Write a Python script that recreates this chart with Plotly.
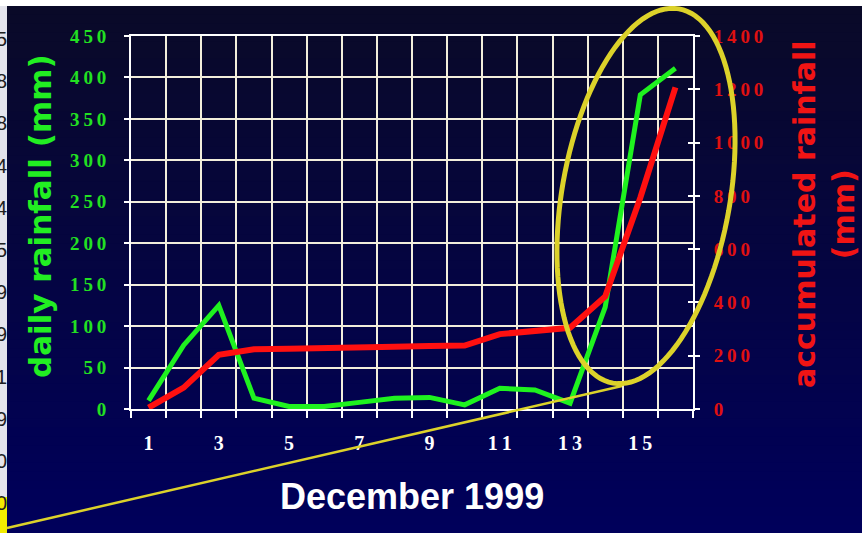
import numpy as np
import plotly.graph_objects as go

# ---- data -------------------------------------------------------------
days = list(range(1, 17))
daily_mm = [10, 77, 125, 13, 3, 3, 8, 13, 14, 5, 25, 23, 7, 123, 379, 411]
accum_mm = [5, 80, 203, 224, 226, 227, 229, 234, 236, 238, 281, 291, 305, 422, 793, 1207]
x_tick_days = [1, 3, 5, 7, 9, 11, 13, 15]
left_ticks = [0, 50, 100, 150, 200, 250, 300, 350, 400, 450]
right_ticks = [0, 200, 400, 600, 800, 1000, 1200, 1400]
side_digits = ["5", "8", "8", "4", "4", "5", "9", "9", "1", "9", "0", "0"]

# ---- page geometry (pixels) ------------------------------------------
W, H = 862, 533
L, R, T, B = 131, 693, 36, 409


def px(x):
    return (x - L) / (R - L)


def py(y):
    return (B - y) / (B - T)


def spaced(n):
    return "\u2009".join(str(n))


GREEN_LINE = "#1ff21f"
GREEN_TXT = "#22e022"
RED_LINE = "#ff1010"
RED_TXT = "#e01010"
GRID = "#f2eedb"
YELLOW = "#dcd22a"
SERIF = "Liberation Serif, Times New Roman, serif"

fig = go.Figure()

fig.add_trace(go.Scatter(
    x=days, y=daily_mm, mode="lines", yaxis="y",
    line=dict(color=GREEN_LINE, width=5), name="daily rainfall"))
fig.add_trace(go.Scatter(
    x=days, y=accum_mm, mode="lines", yaxis="y2",
    line=dict(color=RED_LINE, width=6), name="accumulated rainfall"))
# carrier for the inner half of the right-hand tick marks
fig.add_trace(go.Scatter(x=[], y=[], yaxis="y3", showlegend=False))

shapes = []

# dark navy backdrop, slightly lighter toward the bottom (overlapping bands)
top_rgb = np.array([10, 10, 40])
bot_rgb = np.array([0, 0, 92])
n_bands = 60
y_top, y_bot = 6, H
for i in range(n_bands):
    a = y_top + (y_bot - y_top) * i / n_bands
    b = min(y_top + (y_bot - y_top) * (i + 1) / n_bands + 3, H)
    c = top_rgb + (bot_rgb - top_rgb) * (i + 0.5) / n_bands
    shapes.append(dict(
        type="rect", xref="paper", yref="paper", layer="below",
        x0=px(7), x1=px(W), y0=py(a), y1=py(b),
        fillcolor="rgb(%d,%d,%d)" % tuple(c.astype(int)), line=dict(width=0)))

# spreadsheet column peeking in on the left
shapes.append(dict(type="rect", xref="paper", yref="paper", layer="below",
                   x0=px(0), x1=px(7), y0=py(6), y1=py(497),
                   fillcolor="#e4e4ec", line=dict(width=0)))
shapes.append(dict(type="rect", xref="paper", yref="paper", layer="below",
                   x0=px(0), x1=px(7), y0=py(497), y1=py(H),
                   fillcolor="#f2ec00", line=dict(width=0)))

# highlight ellipse around the final days
cx, cy, A, Bm, phi = 646, 196, 190, 84, np.radians(10)
t = np.linspace(0, 2 * np.pi, 121)
ex = cx + A * np.cos(t) * np.sin(phi) + Bm * np.sin(t) * np.cos(phi)
ey = cy - A * np.cos(t) * np.cos(phi) + Bm * np.sin(t) * np.sin(phi)
path = "M " + " L ".join("%.5f,%.5f" % (px(a), py(b)) for a, b in zip(ex, ey)) + " Z"
shapes.append(dict(type="path", xref="paper", yref="paper", layer="above",
                   path=path, line=dict(color=YELLOW, width=5)))
shapes.append(dict(type="line", xref="paper", yref="paper", layer="above",
                   x0=px(7), y0=py(528), x1=px(622), y1=py(386),
                   line=dict(color=YELLOW, width=2.5)))

annotations = [
    dict(text="daily rainfall (mm)", x=px(40), y=py(216), xref="paper", yref="paper",
         showarrow=False, textangle=-90, xanchor="center", yanchor="middle",
         font=dict(family="DejaVu Sans", size=31, color="#22ee22", weight="bold")),
    dict(text="accumulated rainfall<br>(mm)", x=px(824), y=py(215), xref="paper", yref="paper",
         showarrow=False, textangle=-90, xanchor="center", yanchor="middle",
         font=dict(family="DejaVu Sans", size=30, color="#f01414", weight="bold")),
    dict(text="December 1999", x=px(412), y=py(496), xref="paper", yref="paper",
         showarrow=False, xanchor="center", yanchor="middle",
         font=dict(family="Liberation Sans, Arial", size=36, color="white", weight="bold")),
]
for i, d in enumerate(side_digits):
    annotations.append(dict(
        text=d, x=px(8), y=py(39 + 42.2 * i), xref="paper", yref="paper",
        showarrow=False, xanchor="right", yanchor="middle", borderpad=0,
        font=dict(family="Liberation Sans, Arial", size=20, color="#202020")))

tick_line = dict(ticklen=5, tickwidth=2, tickcolor="white")

fig.update_layout(
    width=W, height=H, autosize=False,
    margin=dict(l=L, r=W - R, t=T, b=H - B, pad=0),
    paper_bgcolor="white", plot_bgcolor="rgba(0,0,0,0)",
    showlegend=False,
    shapes=shapes, annotations=annotations,
    xaxis=dict(
        range=[0.5, 16.5], tickmode="array", tickvals=x_tick_days,
        ticktext=[spaced(d) for d in x_tick_days], ticks="",
        showgrid=False, zeroline=False, showline=True, linecolor="white",
        linewidth=2, mirror=True, ticklabelstandoff=15,
        tickfont=dict(family=SERIF, size=20, color="white", weight="bold"),
        minor=dict(tickmode="array", tickvals=[d - 0.5 for d in days] + [days[-1] + 0.5],
                   ticks="outside", ticklen=7, tickwidth=2, tickcolor="white",
                   showgrid=True, gridcolor=GRID, gridwidth=2),
    ),
    yaxis=dict(
        range=[0, 450], tickmode="array", tickvals=left_ticks,
        ticktext=[spaced(v) for v in left_ticks], ticks="outside", **tick_line,
        showgrid=True, gridcolor=GRID, gridwidth=2, zeroline=False,
        showline=True, linecolor="white", linewidth=2, ticklabelstandoff=14,
        tickfont=dict(family=SERIF, size=19, color=GREEN_TXT, weight="bold"),
    ),
    yaxis2=dict(
        range=[0, 1400], overlaying="y", side="right", anchor="x",
        tickmode="array", tickvals=right_ticks,
        ticktext=[spaced(v) for v in right_ticks], ticks="outside", **tick_line,
        showgrid=False, zeroline=False, showline=True, linecolor="white",
        linewidth=2, ticklabelstandoff=10,
        tickfont=dict(family=SERIF, size=19, color=RED_TXT, weight="bold"),
    ),
    yaxis3=dict(
        range=[0, 1400], overlaying="y", side="right", anchor="x",
        tickmode="array", tickvals=right_ticks, ticks="inside", **tick_line,
        showticklabels=False, showgrid=False, zeroline=False, showline=False,
    ),
)

fig.write_html("out.html")
